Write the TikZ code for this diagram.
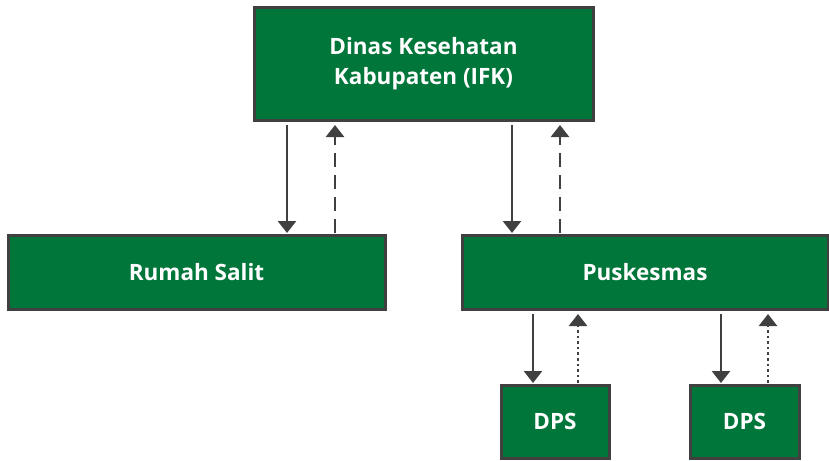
\documentclass[tikz,border=0pt]{standalone}
\usepackage{fontspec}
\setmainfont{Open Sans}
\usetikzlibrary{arrows.meta}
\definecolor{boxgreen}{HTML}{00763A}
\definecolor{linegray}{HTML}{404040}
\tikzset{
  unit/.style={draw=linegray, line width=3pt, fill=boxgreen, text=white,
    font=\fontsize{22.5}{30}\selectfont\bfseries, align=center,
    inner sep=0pt, outer sep=0pt},
  flow/.style={draw=linegray, line width=2.6pt,
    -{Triangle[width=18pt,length=12pt]}},
  back/.style={flow, dash pattern=on 14pt off 8pt},
  report/.style={flow, dash pattern=on 2.6pt off 3pt}
}
\begin{document}
\begin{tikzpicture}[x=1pt,y=-1pt]
\useasboundingbox (0,0) rectangle (829,460);
% kotak-kotak
\node[unit, minimum width=339pt, minimum height=112pt] (dinkes) at (423.5,64)
  {Dinas Kesehatan\\Kabupaten (IFK)};
\node[unit, minimum width=377pt, minimum height=74pt] (rs) at (196.5,272)
  {Rumah Salit};
\node[unit, minimum width=366pt, minimum height=74pt] (pkm) at (645,272)
  {Puskesmas};
\node[unit, minimum width=108pt, minimum height=73pt] (dpsa) at (555,421.5)
  {DPS};
\node[unit, minimum width=109pt, minimum height=73pt] (dpsb) at (744.5,421.5)
  {DPS};
% panah
\draw[flow, shorten <=5pt, shorten >=2pt] (287,0 |- dinkes.south) -- (287,0 |- rs.north);
\draw[back, shorten <=2pt, shorten >=5pt] (335,0 |- rs.north) -- (335,0 |- dinkes.south);
\draw[flow, shorten <=5pt, shorten >=2pt] (512,0 |- dinkes.south) -- (512,0 |- pkm.north);
\draw[back, shorten <=2pt, shorten >=5pt] (560,0 |- pkm.north) -- (560,0 |- dinkes.south);
\draw[flow, shorten <=5pt, shorten >=2pt] (533,0 |- pkm.south) -- (533,0 |- dpsa.north);
\draw[report, shorten <=2pt, shorten >=5pt] (578,0 |- dpsa.north) -- (578,0 |- pkm.south);
\draw[flow, shorten <=5pt, shorten >=2pt] (721,0 |- pkm.south) -- (721,0 |- dpsb.north);
\draw[report, shorten <=2pt, shorten >=5pt] (768,0 |- dpsb.north) -- (768,0 |- pkm.south);
\end{tikzpicture}
\end{document}
